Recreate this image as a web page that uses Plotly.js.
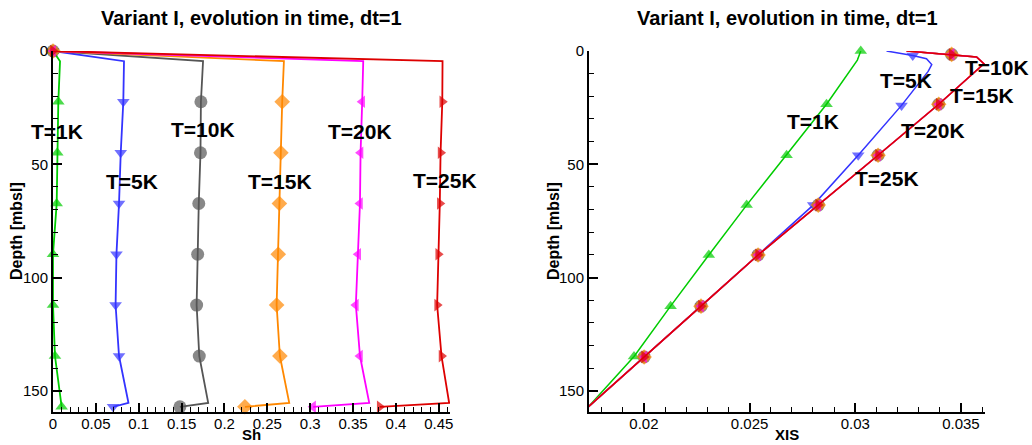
<!DOCTYPE html>
<html><head><meta charset="utf-8">
<script src="https://cdn.plot.ly/plotly-3.0.1.min.js"></script>
<style>body{margin:0;background:#fff}#chart{width:1032px;height:445px}</style>
</head><body><div id="chart"></div>
<script>
const SERIES_NAMES = ['T=1K', 'T=5K', 'T=10K', 'T=15K', 'T=20K', 'T=25K'];

// Left panel: Sh vs depth
const SH_DEPTH  = [0, 4.5, 22.4, 44.9, 67.3, 89.7, 112.1, 134.6, 155.3, 157];
const SH_MARKED = [1, 0, 1, 1, 1, 1, 1, 1, 0, 1];
const SH_T1K  = [0, 0.0082, 0.0062, 0.0050, 0.0043, 0.0000, 0.0000, 0.0023, 0.0095, 0.0101];
const SH_T5K  = [0, 0.0828, 0.0820, 0.0790, 0.0770, 0.0740, 0.0730, 0.0770, 0.0880, 0.0700];
const SH_T10K = [0, 0.1750, 0.1725, 0.1720, 0.1700, 0.1687, 0.1675, 0.1706, 0.1810, 0.1480];
const SH_T15K = [0, 0.2693, 0.2673, 0.2658, 0.2640, 0.2627, 0.2608, 0.2646, 0.2755, 0.2238];
const SH_T20K = [0, 0.3618, 0.3606, 0.3587, 0.3580, 0.3560, 0.3532, 0.3580, 0.3688, 0.3034];
const SH_T25K = [0, 0.4543, 0.4540, 0.4520, 0.4511, 0.4492, 0.4480, 0.4531, 0.4620, 0.3810];

// Right panel: XIS vs depth
const XIS_DEPTH_1K  = [0, 4, 23.5, 46, 68, 90, 112.6, 134.8, 157];
const XIS_MARKED_1K = [1, 0, 1, 1, 1, 1, 1, 1, 1];
const XIS_T1K = [0.03026, 0.03010, 0.02864, 0.02675, 0.02486, 0.02307, 0.02126, 0.01953, 0.01737];

const XIS_DEPTH_5K  = [0, 2, 3.4, 6, 9, 24, 46, 68, 90, 112.6, 135, 157];
const XIS_MARKED_5K = [0, 1, 0, 0, 0, 1, 1, 1, 1, 1, 1, 1];
const XIS_T5K = [0.03148, 0.03272, 0.03337, 0.03362, 0.03345, 0.03219, 0.03014, 0.02801, 0.02540, 0.02270, 0.02001, 0.01737];

const XIS_DEPTH_HOT  = [0, 1.5, 2.6, 5.6, 23.5, 46, 68, 90, 112.6, 135, 157];
const XIS_MARKED_HOT = [0, 1, 0, 0, 1, 1, 1, 1, 1, 1, 1];
const XIS_T10K = [0.03243, 0.03456, 0.03574, 0.03609, 0.03395, 0.03108, 0.02825, 0.02540, 0.02270, 0.02001, 0.01737];
const XIS_T15K = [0.03243, 0.03456, 0.03574, 0.03609, 0.03395, 0.03108, 0.02825, 0.02540, 0.02270, 0.02001, 0.01737];
const XIS_T20K = [0.03243, 0.03456, 0.03574, 0.03609, 0.03395, 0.03108, 0.02825, 0.02540, 0.02270, 0.02001, 0.01737];
const XIS_T25K = [0.03243, 0.03456, 0.03574, 0.03609, 0.03395, 0.03108, 0.02825, 0.02540, 0.02270, 0.02001, 0.01737];

const COLORS  = ['#00cc00', '#3333ff', '#555555', '#ff8800', '#ff00ff', '#dd0000'];
const SYMBOLS = ['triangle-up', 'triangle-down', 'circle', 'diamond', 'triangle-left', 'triangle-right'];
const MSIZE   = [11, 11, 13, 12, 11, 11];

const FONT = 'Arial, "Liberation Sans", sans-serif';

function mk(x, y, mask, i, xa, ya, lw) {
  return {
    type: 'scatter', mode: 'lines+markers', x: x, y: y, xaxis: xa, yaxis: ya,
    name: SERIES_NAMES[i], showlegend: false, cliponaxis: false,
    line: {color: COLORS[i], width: lw},
    marker: {symbol: SYMBOLS[i], color: COLORS[i], size: mask.map(m => m ? MSIZE[i] : 0), line: {width: 0}}
  };
}

const leftVals = [SH_T1K, SH_T5K, SH_T10K, SH_T15K, SH_T20K, SH_T25K];
const traces = [];
leftVals.forEach((v, i) => traces.push(mk(v, SH_DEPTH, SH_MARKED, i, 'x', 'y', 1.8)));

traces.push(mk(XIS_T1K, XIS_DEPTH_1K, XIS_MARKED_1K, 0, 'x2', 'y2', 1.5));
traces.push(mk(XIS_T5K, XIS_DEPTH_5K, XIS_MARKED_5K, 1, 'x2', 'y2', 1.5));
[XIS_T10K, XIS_T15K, XIS_T20K, XIS_T25K].forEach((v, k) =>
  traces.push(mk(v, XIS_DEPTH_HOT, XIS_MARKED_HOT, k + 2, 'x2', 'y2', 1.5)));

const W = 1032;
const axBase = {
  showline: true, linewidth: 2, linecolor: '#000', mirror: false,
  ticks: 'inside', ticklen: 9, tickwidth: 2, tickcolor: '#000',
  showgrid: false, zeroline: false, autorange: false,
  tickfont: {family: FONT, size: 15, color: '#000'}
};

const layout = {
  width: 1032, height: 445,
  margin: {l: 0, r: 0, t: 51, b: 33},
  paper_bgcolor: '#fff', plot_bgcolor: '#fff',
  showlegend: false,
  xaxis: Object.assign({}, axBase, {domain: [53 / W, 450 / W], range: [0, 0.463], tick0: 0, dtick: 0.05, ticklabelstandoff: -3,
    minor: {ticks: 'inside', ticklen: 5, tickwidth: 1, tickcolor: '#000', dtick: 0.01, tick0: 0, showgrid: false}, anchor: 'y'}),
  yaxis: Object.assign({}, axBase, {domain: [0, 1], range: [159.3, 0], tick0: 0, dtick: 50,
    minor: {ticks: 'inside', ticklen: 5, tickwidth: 1, tickcolor: '#000', dtick: 10, tick0: 0, showgrid: false}, anchor: 'x'}),
  xaxis2: Object.assign({}, axBase, {domain: [589 / W, 985 / W], range: [0.0174, 0.03614], tick0: 0, dtick: 0.005, ticklabelstandoff: -3,
    minor: {ticks: 'inside', ticklen: 5, tickwidth: 1, tickcolor: '#000', dtick: 0.001, tick0: 0, showgrid: false}, anchor: 'y2'}),
  yaxis2: Object.assign({}, axBase, {domain: [0, 1], range: [159.3, 0], tick0: 0, dtick: 50,
    minor: {ticks: 'inside', ticklen: 5, tickwidth: 1, tickcolor: '#000', dtick: 10, tick0: 0, showgrid: false}, anchor: 'x2'}),
  annotations: []
};

const PH = 361; // plot height in px
function py(p) { return 1 - (p - 51) / PH; }
const bold = (s) => ({family: FONT, size: s, color: '#000', weight: 'bold'});
const A = layout.annotations;
// panel titles
A.push({xref: 'paper', yref: 'paper', x: 251 / W, y: py(18), text: '<b>Variant I, evolution in time, dt=1</b>', showarrow: false, xanchor: 'center', yanchor: 'middle', font: bold(20)});
A.push({xref: 'paper', yref: 'paper', x: 787 / W, y: py(18), text: '<b>Variant I, evolution in time, dt=1</b>', showarrow: false, xanchor: 'center', yanchor: 'middle', font: bold(20)});
// axis titles
A.push({xref: 'paper', yref: 'paper', x: 251 / W, y: py(444), text: '<b>Sh</b>', showarrow: false, xanchor: 'center', yanchor: 'bottom', font: bold(15), borderpad: 0});
A.push({xref: 'paper', yref: 'paper', x: 787 / W, y: py(444), text: '<b>XIS</b>', showarrow: false, xanchor: 'center', yanchor: 'bottom', font: bold(15), borderpad: 0});
A.push({xref: 'paper', yref: 'paper', x: 16 / W, y: py(231), text: '<b>Depth [mbsl]</b>', textangle: -90, showarrow: false, xanchor: 'center', yanchor: 'middle', font: bold(16)});
A.push({xref: 'paper', yref: 'paper', x: 553 / W, y: py(231), text: '<b>Depth [mbsl]</b>', textangle: -90, showarrow: false, xanchor: 'center', yanchor: 'middle', font: bold(16)});

// curve labels, left panel
const LBL_L = [[0.0044, 35.7], [0.0917, 57.8], [0.1752, 34.5], [0.2646, 57.8], [0.3579, 35.7], [0.4570, 57.0]];
LBL_L.forEach((p, i) => A.push({xref: 'x', yref: 'y', x: p[0], y: p[1], text: '<b>' + SERIES_NAMES[i] + '</b>', showarrow: false, xanchor: 'center', yanchor: 'middle', font: bold(21)}));
// curve labels, right panel
const LBL_R = [[0.02801, 31.3, 'center'], [0.03242, 12.9, 'center'], [0.03509, 7.1, 'left'], [0.0344, 19.5, 'left'], [0.03368, 35.0, 'center'], [0.03148, 56.3, 'center']];
LBL_R.forEach((p, i) => A.push({xref: 'x2', yref: 'y2', x: p[0], y: p[1], text: '<b>' + SERIES_NAMES[i] + '</b>', showarrow: false, xanchor: p[2], yanchor: 'middle', font: bold(21)}));

Plotly.newPlot('chart', traces, layout, {displayModeBar: false, staticPlot: true});
</script>
</body></html>
